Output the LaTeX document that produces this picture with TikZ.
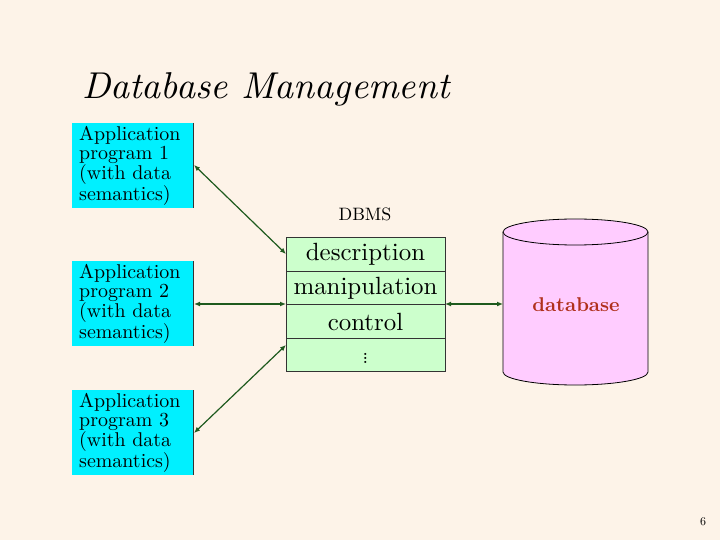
\documentclass[tikz,border=0pt]{standalone}
\usepackage{fontspec}
\setmainfont{lmroman10-regular.otf}[ItalicFont=lmroman10-italic.otf,BoldFont=lmroman10-bold.otf]
\usetikzlibrary{arrows.meta}
\definecolor{bg}{HTML}{FDF3E8}
\definecolor{cy}{HTML}{00F0FF}
\definecolor{gr}{HTML}{CCFFCC}
\definecolor{pk}{HTML}{FFCCFF}
\definecolor{ar}{HTML}{1E5A1E}
\definecolor{dbred}{HTML}{B0301C}
\begin{document}
\begin{tikzpicture}[x=1bp,y=-1bp,
  app/.style={fill=cy,minimum width=121bp,minimum height=85bp,anchor=north west,inner sep=0pt},
  apptxt/.style={anchor=north west,align=left,font=\fontsize{20}{19}\selectfont,inner sep=0pt},
  rowtxt/.style={inner sep=0pt,font=\fontsize{25}{26}\selectfont},
  con/.style={draw=ar,line width=1.2pt,{Latex[length=6bp,width=5bp]}-{Latex[length=6bp,width=5bp]}}]
\fill[bg] (0,0) rectangle (720,540);
\useasboundingbox (0,0) rectangle (720,540);
\node[anchor=base west,inner sep=0pt,font=\fontsize{37.5}{38}\selectfont\itshape] (title) at (82,99) {Database Management};
\foreach \n/\y in {1/123,2/261,3/390}{
  \node[app] (a\n) at (72,\y) {};
  \draw[black!80] (a\n.north east) -- (a\n.south east);
  \node[apptxt] (t\n) at (79,\y+3) {Application\\program \n\\(with data\\semantics)};
}
\node[font=\fontsize{18}{20}\selectfont] (dbmsl) at (365,214) {DBMS};
\node[draw=black!80,fill=gr,minimum width=159bp,minimum height=134bp,inner sep=0pt] (dbms) at (365.5,304) {};
\draw[black!80] (286,271) -- (445,271) (286,304) -- (445,304) (286,338) -- (445,338);
\node[rowtxt] (r1) at (365.5,254) {description};
\node[rowtxt] (r2) at (365.5,288) {manipulation};
\node[rowtxt] (r3) at (365.5,322) {control};
\node[inner sep=0pt,font=\fontsize{20}{22}\selectfont] (r4) at (365.5,355) {$\vdots$};
\filldraw[draw=black,fill=pk,line width=0.8pt] (503,232) -- (503,372) arc[start angle=180,end angle=360,x radius=72.5,y radius=-13] -- (648,232) arc[start angle=0,end angle=180,x radius=72.5,y radius=-13] -- cycle;
\draw[black,line width=0.8pt] (503,232) arc[start angle=180,end angle=360,x radius=72.5,y radius=-13];
\node[font=\fontsize{20}{22}\selectfont\bfseries,text=dbred] (dbt) at (576,305) {database};
\coordinate (p1) at (286,254);
\coordinate (p2) at (286,304);
\coordinate (p3) at (286,345);
\coordinate (q1) at (194,165);
\coordinate (q2) at (194,304);
\coordinate (q3) at (194,433);
\draw[con] (q1) -- (p1);
\draw[con] (q2) -- (p2);
\draw[con] (q3) -- (p3);
\coordinate (d1) at (445,304);
\coordinate (d2) at (503,304);
\draw[con] (d1) -- (d2);
\node[font=\fontsize{12}{13}\selectfont] (pg) at (703,522) {6};
\end{tikzpicture}
\end{document}
